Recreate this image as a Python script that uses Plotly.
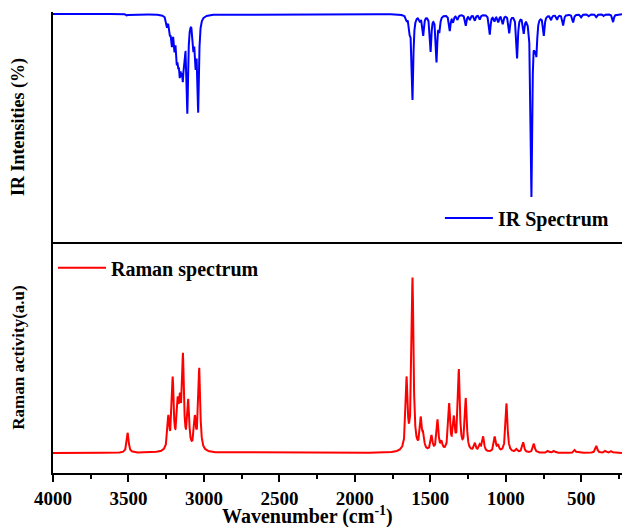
import numpy as np
import plotly.graph_objects as go

# IR band positions (cm-1) and depths
ir_centers = [3510, 3245, 3225, 3212, 3195, 3180, 3170, 3160, 3150, 3140, 3130,
              3110, 3070, 3055, 3038,
              1657, 1636, 1618, 1569, 1547, 1498, 1459, 1440, 1371, 1349, 1320,
              1265, 1238, 1205, 1172, 1106, 1075, 1050, 1020, 977, 925, 881,
              830, 808, 797, 748, 700, 660, 620, 554, 500, 450, 400, 350, 289]
ir_depths = [1.5, 10, 14, 24, 26, 32, 28, 38, 32, 42, 30,
             92, 26, 40, 92,
             4, 14, 84, 5, 20, 36, 46, 14, 16, 7, 5,
             11, 5, 6, 5, 20, 6, 7, 9, 18, 43, 16,
             180, 20, 32, 20, 5, 5, 11, 8, 3, 2, 3, 2, 8]

# Raman band positions (cm-1) and activities
raman_centers = [3505, 3236, 3207, 3174, 3159, 3139, 3104, 3060, 3031,
                 1657, 1618, 1563, 1547, 1492, 1452, 1426, 1375, 1344, 1311,
                 1265, 1205, 1172, 1150, 1073, 1051, 995, 929, 885, 814,
                 720, 680, 543, 400, 340, 300]
raman_heights = [20, 32, 70, 40, 38, 90, 47, 30, 82,
                 70, 172, 30, 13, 15, 31, 8, 46, 30, 80,
                 52, 8, 6, 15, 15, 6, 49, 3, 10, 9,
                 2, 2, 3, 7, 2, 2]

wavenumber = np.arange(230, 4000.5, 0.5)


def broaden(centers, heights, hwhm):
    total = np.zeros_like(wavenumber)
    for c, h in zip(centers, heights):
        total += h * hwhm ** 2 / ((wavenumber - c) ** 2 + hwhm ** 2)
    return total


ir_curve = -broaden(ir_centers, ir_depths, 6.0)
raman_curve = broaden(raman_centers, raman_heights, 7.5)

FONT = "Liberation Serif"
tick_vals = [4000, 3500, 3000, 2500, 2000, 1500, 1000, 500]

fig = go.Figure()

fig.add_trace(go.Scatter(
    x=wavenumber, y=ir_curve, mode="lines", name="<b>IR Spectrum</b>",
    line=dict(color="#0000FF", width=2), showlegend=True,
    xaxis="x2", yaxis="y2", legend="legend2",
))
fig.add_trace(go.Scatter(
    x=wavenumber, y=raman_curve, mode="lines", name="<b>Raman spectrum</b>",
    line=dict(color="#FF0000", width=2), showlegend=True,
    xaxis="x", yaxis="y", legend="legend",
))

fig.update_layout(
    width=622, height=527,
    showlegend=True,
    margin=dict(l=53, r=0, t=12, b=54, autoexpand=False),
    plot_bgcolor="white",
    paper_bgcolor="white",
    font=dict(family=FONT, color="black"),
    xaxis=dict(
        range=[4000, 230], anchor="y",
        tickvals=tick_vals, ticktext=[f"<b>{v}</b>" for v in tick_vals],
        ticks="outside", ticklen=7, tickwidth=2, tickcolor="black",
        minor=dict(dtick=250, tick0=0, ticks="outside", ticklen=4,
                   tickwidth=2, tickcolor="black"),
        showline=True, linecolor="black", linewidth=2,
        mirror=False, showgrid=False, zeroline=False,
        tickfont=dict(size=19, family=FONT),
    ),
    xaxis2=dict(
        range=[4000, 230], anchor="y2", matches="x",
        showticklabels=False, ticks="",
        showline=True, linecolor="black", linewidth=2,
        showgrid=False, zeroline=False,
    ),
    yaxis=dict(
        domain=[0, 0.501], range=[-20, 211],
        showticklabels=False, ticks="",
        showline=True, linecolor="black", linewidth=2,
        showgrid=False, zeroline=False,
        title=dict(text="<b>Raman activity(a.u)</b>", standoff=22,
                   font=dict(size=17, family=FONT)),
    ),
    yaxis2=dict(
        domain=[0.501, 1], range=[-228, 2],
        showticklabels=False, ticks="",
        showline=True, linecolor="black", linewidth=2,
        showgrid=False, zeroline=False,
        title=dict(text="<b>IR Intensities (%)</b>", standoff=22,
                   font=dict(size=18, family=FONT)),
    ),
    legend=dict(
        x=0.0, y=0.445, xanchor="left", yanchor="middle",
        bgcolor="rgba(0,0,0,0)", visible=True, itemwidth=48,
        font=dict(size=20, family=FONT),
    ),
    legend2=dict(
        x=0.68, y=0.553, xanchor="left", yanchor="middle",
        bgcolor="rgba(0,0,0,0)", visible=True, itemwidth=48,
        font=dict(size=20, family=FONT),
    ),
    annotations=[dict(
        text="<b>Wavenumber (cm<sup>-1</sup>)</b>",
        xref="paper", yref="paper", x=0.447, y=-0.117, yshift=-3,
        xanchor="center", yanchor="bottom", showarrow=False,
        font=dict(size=20, family=FONT),
    )],
)

fig.write_html("out.html", config={"displayModeBar": False},
               post_script="document.body.style.margin='0';")
